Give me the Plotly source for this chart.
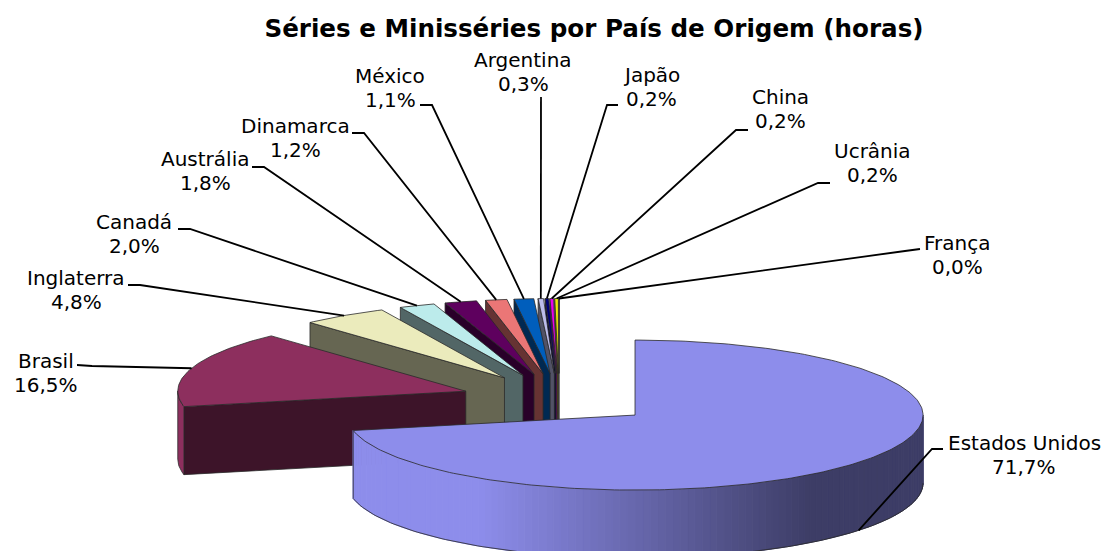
import math
import plotly.graph_objects as go

# ---- data ----
categories = ["Estados Unidos", "Brasil", "Inglaterra", "Canadá", "Austrália", "Dinamarca",
              "México", "Argentina", "Japão", "China", "Ucrânia", "França"]
values = [71.7, 16.5, 4.8, 2.0, 1.8, 1.2, 1.1, 0.3, 0.2, 0.2, 0.2, 0.0]
base_colors = ["#9999FF", "#993366", "#FFFFCC", "#CCFFFF", "#660066", "#FF8080",
               "#0066CC", "#CCCCFF", "#000080", "#FF00FF", "#FFFF00", "#00FFFF"]
title_text = "Séries e Minisséries por País de Origem (horas)"

# ---- layout of the label boxes (centre px) and the elbow of each leader ----
label_centers = [(1024, 455), (46, 373), (76, 290), (134, 234), (205, 171), (295, 138),
                 (390, 88), (523, 72), (651, 87), (780, 109), (872, 163), (957, 255)]
leader_starts = [(943, 449), (77, 365), (128, 285), (178, 229), (252, 167), (352, 133),
                 (420, 105), (541, 97), (618, 105), (748, 130), (830, 183), (920, 249)]
leader_elbows = [(932, 449), (92, 366), (140, 285), (190, 229), (264, 167), (364, 133),
                 (432, 105), (541, 98), (607, 105), (736, 130), (818, 183), (905, 251)]

# ---- pie geometry ----
CX, CY, RX, RY, DEPTH, EXPLODE = 559.0, 399.0, 288.0, 75.0, 68.0, 0.34
FACE, WALL = 0.92, 0.40
EDGE = "#2a2a2a"
LABEL_FONT = dict(family="DejaVu Sans", size=20, color="black")


def shade(hex_color, f):
    r, g, b = (int(hex_color[i:i + 2], 16) for i in (1, 3, 5))
    return f"rgb({r * f:.0f},{g * f:.0f},{b * f:.0f})"


def rim(apex, deg):
    t = math.radians(deg)
    return apex[0] + RX * math.sin(t), apex[1] - RY * math.cos(t)


def arc(apex, a, b, step=1.0):
    n = max(2, int(abs(b - a) / step) + 1)
    return [rim(apex, a + (b - a) * i / (n - 1)) for i in range(n)]


fig = go.Figure()


def poly(points, fill, line=None, width=0.8):
    xs = [p[0] for p in points] + [points[0][0]]
    ys = [p[1] for p in points] + [points[0][1]]
    fig.add_trace(go.Scatter(x=xs, y=ys, mode="lines", fill="toself", fillcolor=fill,
                             line=dict(color=line or fill, width=width),
                             hoverinfo="skip", showlegend=False))


def down(points):
    return [(x, y + DEPTH) for x, y in points]


total = sum(values)
slices = []
angle = 0.0
for name, v, col in zip(categories, values, base_colors):
    sweep = 360.0 * v / total
    mid = angle + sweep / 2
    apex = rim((CX, CY), mid)
    apex = (CX + EXPLODE * (apex[0] - CX), CY + EXPLODE * (apex[1] - CY))
    slices.append(dict(start=angle, end=angle + sweep, mid=mid, apex=apex, color=col))
    angle += sweep

# painter's order: from the back right round to the front slice
for s in reversed(slices):
    ap, a, b, col = s["apex"], s["start"], s["end"], s["color"]
    if a >= 180:  # radial wall that faces the viewer
        p = rim(ap, a)
        poly([ap, p, (p[0], p[1] + DEPTH), (ap[0], ap[1] + DEPTH)], shade(col, WALL), EDGE)
    lo, hi = max(a, 90), min(b, 270)
    if lo < hi:  # front rim
        if hi - lo > 30:
            th = lo
            while th < hi:
                nx = min(th + 1.5, hi)
                top = arc(ap, th, nx, 0.5)
                xm = sum(x for x, _ in top) / len(top)
                f = FACE - (FACE - WALL) * min(1, max(0, (xm - 480) / 330))
                poly(top + down(top)[::-1], shade(col, f), None, 1)
                th = nx
            top = arc(ap, lo, hi)
            bottom = down(top)
            for line_pts in (bottom, [top[-1], bottom[-1]]):
                fig.add_trace(go.Scatter(x=[p[0] for p in line_pts], y=[p[1] for p in line_pts],
                                         mode="lines", line=dict(color=EDGE, width=0.8),
                                         hoverinfo="skip", showlegend=False))
        else:
            top = arc(ap, lo, hi)
            poly(top + down(top)[::-1], shade(col, FACE), EDGE)
    pts = [ap] + arc(ap, a, b)
    poly(pts, shade(col, FACE), EDGE)

# leader lines end on the rim midpoint of each slice; labels are two lines 24 px apart
annotations = []
for s, name, v, lc, ls, le in zip(slices, categories, values, label_centers, leader_starts, leader_elbows):
    end = rim(s["apex"], s["mid"])
    if 90 < s["mid"] < 270:
        end = (end[0], end[1] + DEPTH)
    fig.add_trace(go.Scatter(x=[ls[0], le[0], end[0]], y=[ls[1], le[1], end[1]], mode="lines",
                             line=dict(color="black", width=1.8), hoverinfo="skip", showlegend=False))
    for text, dy in ((name, -12), (f"{v:.1f}%".replace(".", ","), 12)):
        annotations.append(dict(x=lc[0], y=lc[1] + dy, xref="x", yref="y", showarrow=False,
                                text=text, font=LABEL_FONT,
                                xanchor="center", yanchor="middle"))

fig.update_layout(
    width=1103, height=551, margin=dict(l=0, r=0, t=0, b=0),
    paper_bgcolor="white", plot_bgcolor="white", showlegend=False,
    title=dict(text=f"<b>{title_text}</b>", x=594 / 1103, xanchor="center", y=1 - 28 / 551, yanchor="middle",
               font=dict(family="DejaVu Sans", size=24.6, color="black")),
    xaxis=dict(range=[0, 1103], visible=False, fixedrange=True),
    yaxis=dict(range=[551, 0], visible=False, fixedrange=True),
    annotations=annotations,
)
fig.write_html("out.html", config=dict(displayModeBar=False),
               post_script="document.body.style.margin='0';document.body.style.overflow='hidden';")
